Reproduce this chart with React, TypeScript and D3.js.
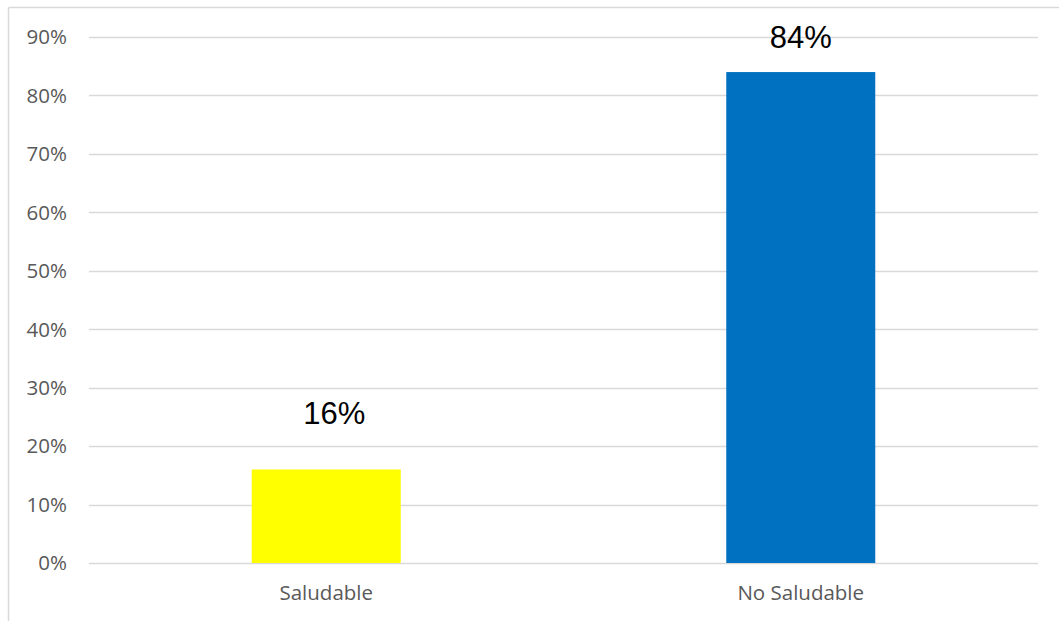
import React from "react";
import * as d3 from "d3";

const categories = ["Saludable", "No Saludable"];
const values = [0.16, 0.84];
const barColors = ["#FFFF00", "#0070C0"];
const yTicks = [0, 0.1, 0.2, 0.3, 0.4, 0.5, 0.6, 0.7, 0.8, 0.9];

const W = 1059;
const H = 621;
const plot = { left: 89, right: 1038, top: 37, bottom: 563 };
// manual nudges of the data labels, as in the source chart
const labelDx = [8, 0];

export default function App() {
  const x = d3
    .scaleBand<string>()
    .domain(categories)
    .range([plot.left, plot.right])
    .paddingInner(0.686)
    .paddingOuter(0.343);
  const y = d3.scaleLinear().domain([0, 0.9]).range([plot.bottom, plot.top]);
  const fmt = d3.format(".0%");

  return (
    <svg
      width={W}
      height={H}
      style={{ position: "absolute", left: 0, top: 0, display: "block", background: "#fff" }}
    >
      <rect x={0} y={0} width={W} height={H} fill="#fff" />
      <line x1={8.5} y1={7.5} x2={8.5} y2={H} stroke="#d9d9d9" strokeWidth={1.5} />
      <line x1={8.5} y1={7.5} x2={W} y2={7.5} stroke="#d9d9d9" strokeWidth={1.5} />

      {yTicks.map((t) => (
        <g key={t}>
          <line
            x1={plot.left}
            x2={plot.right}
            y1={Math.round(y(t)) + 0.5}
            y2={Math.round(y(t)) + 0.5}
            stroke="#d9d9d9"
            strokeWidth={t === 0 ? 1.6 : 1.3}
          />
          <text
            x={67}
            y={y(t)}
            dy="0.36em"
            textAnchor="end"
            fontFamily="'Open Sans', sans-serif"
            fontSize={20.5}
            fill="#595959"
          >
            {fmt(t)}
          </text>
        </g>
      ))}

      {categories.map((c, i) => (
        <g key={c}>
          <rect
            x={x(c)!}
            y={y(values[i])}
            width={x.bandwidth()}
            height={plot.bottom - y(values[i])}
            fill={barColors[i]}
          />
          <text
            x={x(c)! + x.bandwidth() / 2 + labelDx[i]}
            y={Math.max(y(values[i]) - 45, 48)}
            textAnchor="middle"
            fontFamily="'Liberation Sans', Arial, sans-serif"
            fontSize={31}
            fill="#000"
          >
            {fmt(values[i])}
          </text>
          <text
            x={x(c)! + x.bandwidth() / 2}
            y={600}
            textAnchor="middle"
            fontFamily="'Open Sans', sans-serif"
            fontSize={20.5}
            fill="#595959"
          >
            {c}
          </text>
        </g>
      ))}
    </svg>
  );
}
